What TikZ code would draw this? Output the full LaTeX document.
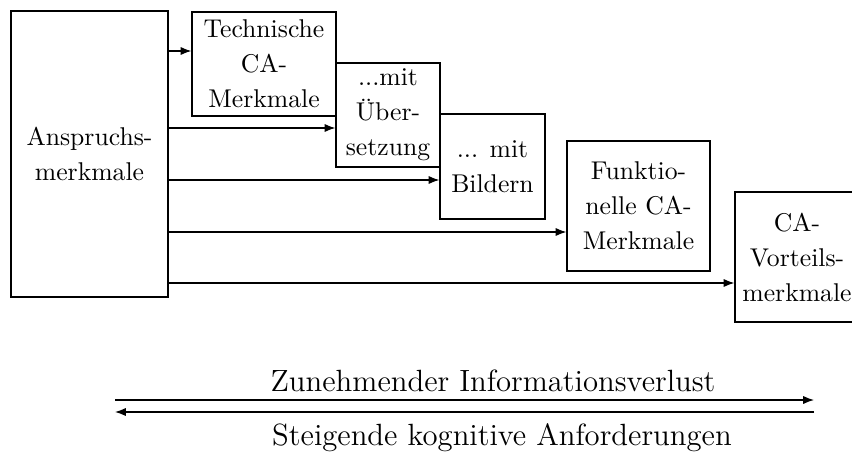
\documentclass[tikz,border=0pt]{standalone}
\usetikzlibrary{arrows.meta}
\begin{document}
\begin{tikzpicture}[x=0.4167pt, y=-0.4167pt,
  box/.style={draw, line width=0.5pt, align=center, inner sep=0pt,
    font=\fontsize{10.7}{14.6}\selectfont},
  flow/.style={draw, line width=0.5pt, -{Latex[length=4.5pt,width=3.4pt]}},
  caption/.style={font=\fontsize{12.8}{15}\selectfont, inner sep=0pt}]
  \useasboundingbox (0,0) rectangle (852,457);

  % source box and derived feature boxes
  \node[box, minimum width=157*0.4167pt, minimum height=286*0.4167pt] (A) at (89.5,154) {Anspruchs-\\merkmale};
  \node[box, minimum width=144*0.4167pt, minimum height=104*0.4167pt] (T) at (264,64) {Technische\\CA-\\Merkmale};
  \node[box, minimum width=104*0.4167pt, minimum height=104*0.4167pt] (U) at (388,115) {...mit\\Über-\\setzung};
  \node[box, minimum width=105*0.4167pt, minimum height=105*0.4167pt] (B) at (492.5,166.5) {... mit\\Bildern};
  \node[box, minimum width=143*0.4167pt, minimum height=130*0.4167pt] (F) at (638.5,206) {Funktio-\\nelle CA-\\Merkmale};
  \node[box, minimum width=124*0.4167pt, minimum height=130*0.4167pt] (V) at (797,257) {CA-\\Vorteils-\\merkmale};

  % heights of the connectors
  \coordinate (l1) at (0,51);
  \coordinate (l2) at (0,128);
  \coordinate (l3) at (0,180);
  \coordinate (l4) at (0,232);
  \coordinate (l5) at (0,283);

  \draw[flow] (A.east |- l1) -- (T.west |- l1);
  \draw[flow] (A.east |- l2) -- (U.west |- l2);
  \draw[flow] (A.east |- l3) -- (B.west |- l3);
  \draw[flow] (A.east |- l4) -- (F.west |- l4);
  \draw[flow] (A.east |- l5) -- (V.west |- l5);

  % opposing trend arrows with captions
  \coordinate (pl) at (115,400);
  \coordinate (pr) at (814,400);
  \coordinate (ql) at (115,412);
  \coordinate (qr) at (814,412);
  \draw[flow] (pl) -- (pr);
  \draw[flow] (qr) -- (ql);
  \node[caption] (up) at (493,381) {Zunehmender Informationsverlust};
  \node[caption] (down) at (502,438) {Steigende kognitive Anforderungen};
\end{tikzpicture}
\end{document}
